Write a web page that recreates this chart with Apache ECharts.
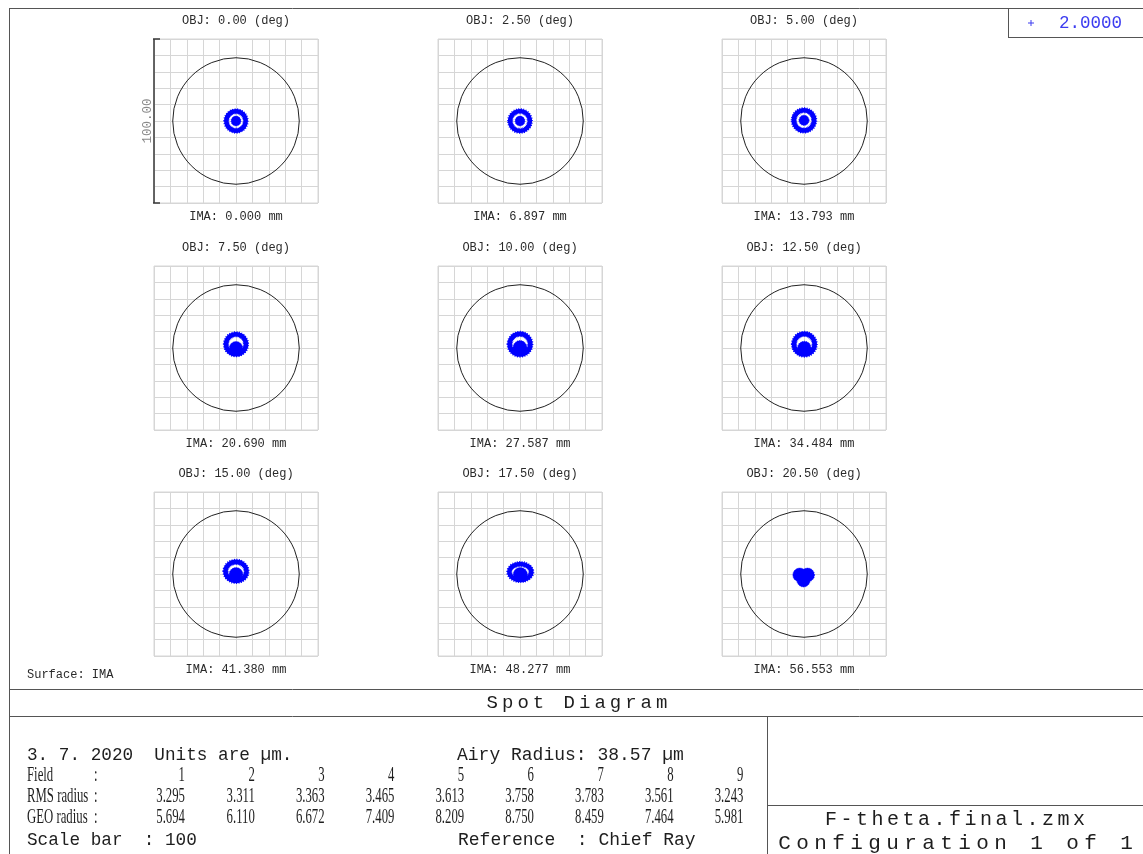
<!DOCTYPE html>
<html>
<head>
<meta charset="utf-8">
<script src="https://cdn.jsdelivr.net/npm/echarts@6/dist/echarts.min.js"></script>
<style>
  html, body { margin: 0; padding: 0; background: #fff; }
  #chart { width: 1143px; height: 854px; }
</style>
</head>
<body>
<div id="chart"></div>
<script>
// ---- Spot diagram data (units: µm unless noted) ----
const fieldAngles = [0.00, 2.50, 5.00, 7.50, 10.00, 12.50, 15.00, 17.50, 20.50];      // deg
const imageHeights = [0.000, 6.897, 13.793, 20.690, 27.587, 34.484, 41.380, 48.277, 56.553]; // mm
const fieldNumbers = [1, 2, 3, 4, 5, 6, 7, 8, 9];
const rmsRadius = [3.295, 3.311, 3.363, 3.465, 3.613, 3.758, 3.783, 3.561, 3.243];
const geoRadius = [5.694, 6.110, 6.672, 7.409, 8.209, 8.750, 8.459, 7.464, 5.981];
const airyRadius = 38.57;
const scaleBar = 100;
const wavelengths = [2.0000];

// Outer ray ring of each spot: [cx, cy, rx, ry, thickness]
const spotRings = [
  [0.0, 0.0, 5.9, 5.9, 2.7],
  [0.0, 0.0, 6.0, 6.0, 2.7],
  [0.0, 0.4, 6.2, 6.2, 2.8],
  [0.0, 2.3, 6.1, 6.1, 2.8],
  [0.0, 2.3, 6.3, 6.3, 2.8],
  [0.2, 2.3, 6.3, 6.3, 2.8],
  [0.0, 1.6, 6.4, 5.8, 2.8],
  [0.2, 1.2, 6.7, 4.9, 2.7],
  null
];
// Dense core of each spot: list of filled disks [cx, cy, r]
const spotCores = [
  [[0.0, 0.0, 3.0]],
  [[0.0, 0.0, 3.0]],
  [[0.0, 0.4, 3.1]],
  [[0.0, -0.1, 4.1]],
  [[0.0, 0.2, 4.3]],
  [[0.2, -0.1, 4.2]],
  [[0.0, -0.3, 4.2]],
  [[0.2, -0.3, 4.3]],
  [[-2.6, -0.6, 4.2], [2.2, -0.6, 4.2], [-0.3, -3.9, 4.0]]
];

// ---- Layout ----
const COL_LEFT = [154, 438, 722];
const ROW_TOP = [39, 266, 492];
const BOX = 164;
const MONO = '"Liberation Mono", "DejaVu Sans Mono", monospace';
const SERIF = '"Liberation Serif", "DejaVu Serif", serif';
const SPOT_BLUE = '#0000ff';
const GRID_GRAY = '#d6d6d6';

const grids = [], xAxes = [], yAxes = [], series = [];

fieldAngles.forEach((ang, i) => {
  const left = COL_LEFT[i % 3], top = ROW_TOP[Math.floor(i / 3)];
  grids.push({ left, top, width: BOX, height: BOX, show: true,
    borderColor: GRID_GRAY, borderWidth: 1, backgroundColor: 'transparent' });
  const axisBase = {
    type: 'value', gridIndex: i, min: -scaleBar / 2, max: scaleBar / 2, interval: 10,
    axisLine: { show: false }, axisTick: { show: false }, axisLabel: { show: false },
    splitLine: { show: true, lineStyle: { color: GRID_GRAY, width: 1 } }
  };
  xAxes.push(Object.assign({}, axisBase));
  const ya = Object.assign({}, axisBase);
  if (i === 0) {
    ya.name = scaleBar.toFixed(2);
    ya.nameLocation = 'middle';
    ya.nameRotate = 90;
    ya.nameGap = 0;
    ya.nameTextStyle = { color: '#8a8a8a', fontFamily: MONO, fontSize: 12.5 };
  }
  yAxes.push(ya);

  // Airy disk circle
  series.push({
    type: 'custom', xAxisIndex: i, yAxisIndex: i, silent: true, clip: false,
    data: [[0, 0]],
    renderItem: (params, api) => {
      const c = api.coord([0, 0]);
      const r = api.size([airyRadius, 0])[0];
      return { type: 'circle', shape: { cx: c[0], cy: c[1], r },
        style: { fill: 'none', stroke: '#222', lineWidth: 1 } };
    }
  });

  // Ray spot
  series.push({
    type: 'custom', xAxisIndex: i, yAxisIndex: i, silent: true, clip: false,
    data: [[0, 0]],
    renderItem: (params, api) => {
      const children = [];
      const ring = spotRings[i];
      if (ring) {
        const c = api.coord([ring[0], ring[1]]);
        const s = api.size([ring[2], ring[3]]);
        const w = api.size([ring[4], 0])[0];
        children.push({ type: 'ellipse', shape: { cx: c[0], cy: c[1], rx: s[0], ry: s[1] },
          style: { fill: 'none', stroke: SPOT_BLUE, lineWidth: w } });
        children.push({ type: 'ellipse', shape: { cx: c[0], cy: c[1], rx: s[0], ry: s[1] },
          style: { fill: 'none', stroke: SPOT_BLUE, lineWidth: w + 1.6, lineDash: [0.8, 1.2] } });
      }
      spotCores[i].forEach(d => {
        const c = api.coord([d[0], d[1]]);
        const r = api.size([d[2], 0])[0];
        children.push({ type: 'circle', shape: { cx: c[0], cy: c[1], r },
          style: { fill: SPOT_BLUE, stroke: SPOT_BLUE, lineWidth: 0.8, lineDash: [1, 1] } });
      });
      return { type: 'group', children };
    }
  });
});

// Scale bar on the first panel
series.push({
  type: 'custom', xAxisIndex: 0, yAxisIndex: 0, silent: true, clip: false,
  data: [[0, 0]],
  renderItem: (params, api) => {
    const h = scaleBar / 2;
    const a = api.coord([-h, -h]), b = api.coord([-h, h]);
    const st = { stroke: '#3a3a3a', lineWidth: 1.5 };
    return { type: 'group', children: [
      { type: 'line', shape: { x1: a[0], y1: a[1], x2: b[0], y2: b[1] }, style: st },
      { type: 'line', shape: { x1: a[0] - 1, y1: a[1], x2: a[0] + 6, y2: a[1] }, style: st },
      { type: 'line', shape: { x1: b[0] - 1, y1: b[1], x2: b[0] + 6, y2: b[1] }, style: st }
    ]};
  }
});

// ---- Frame, labels and text block ----
const graphic = [];
function line(x1, y1, x2, y2, color) {
  graphic.push({ type: 'line', silent: true,
    shape: { x1, y1, x2, y2 }, style: { stroke: color || '#555', lineWidth: 1 } });
}
function text(str, x, y, font, opts) {
  opts = opts || {};
  graphic.push({ type: 'text', silent: true, x, y,
    scaleX: opts.scaleX || 1,
    style: { text: str, font, fill: opts.fill || '#1e1e1e',
      textAlign: opts.align || 'left', textVerticalAlign: 'middle' } });
}
function spaced(str, cx, cy, advance, font) {
  const total = advance * str.length;
  for (let k = 0; k < str.length; k++) {
    if (str[k] === ' ') continue;
    text(str[k], cx - total / 2 + advance * (k + 0.5), cy, font, { align: 'center' });
  }
}

// Panel captions
fieldAngles.forEach((ang, i) => {
  const cx = COL_LEFT[i % 3] + BOX / 2, top = ROW_TOP[Math.floor(i / 3)];
  text('OBJ: ' + ang.toFixed(2) + ' (deg)', cx, top - 18, '12px ' + MONO, { align: 'center', fill: '#2a2a2a' });
  text('IMA: ' + imageHeights[i].toFixed(3) + ' mm', cx, top + BOX + 13.5, '12px ' + MONO, { align: 'center', fill: '#2a2a2a' });
});
text('Surface: IMA', 27, 675, '12px ' + MONO, { fill: '#2a2a2a' });

// Frame lines
line(9.5, 8, 9.5, 854);
line(9, 8.5, 1143, 8.5);
line(1008.5, 8, 1008.5, 37.5);
line(1008, 37.5, 1143, 37.5);
line(9, 689.5, 1143, 689.5);
line(9, 716.5, 1143, 716.5);
line(767.5, 716, 767.5, 854);
line(767, 805.5, 1143, 805.5);

// Wavelength legend
wavelengths.forEach((wl, k) => {
  const y = 23 + k * 20;
  graphic.push({ type: 'line', silent: true, shape: { x1: 1028, y1: y, x2: 1034, y2: y }, style: { stroke: '#3c3cf0', lineWidth: 1 } });
  graphic.push({ type: 'line', silent: true, shape: { x1: 1031, y1: y - 3, x2: 1031, y2: y + 3 }, style: { stroke: '#3c3cf0', lineWidth: 1 } });
  text(wl.toFixed(4), 1059, y, '17.5px ' + MONO, { fill: '#3c3cf0' });
});

// Title and file block
spaced('Spot Diagram', 577, 703, 15.4, '19px ' + MONO);
spaced('F-theta.final.zmx', 955, 820, 15.5, '20px ' + MONO);
spaced('Configuration 1 of 1', 955.5, 843, 18, '21px ' + MONO);

// Summary text
const BIG = '17.7px ' + MONO;
text('3. 7. 2020  Units are \u00b5m.', 27, 755, BIG);
text('Airy Radius: ' + airyRadius.toFixed(2) + ' \u00b5m', 457, 755, '18px ' + MONO);
text('Scale bar  : ' + scaleBar, 27, 840, BIG);
text('Reference  : Chief Ray', 458, 840, '18px ' + MONO);

// Field table (condensed serif)
const TFONT = '22px ' + SERIF, TSX = 0.58;
const rowY = [775.5, 796.5, 817.5];
const rowLabels = ['Field', 'RMS radius', 'GEO radius'];
const rowValues = [fieldNumbers.map(String), rmsRadius.map(v => v.toFixed(3)), geoRadius.map(v => v.toFixed(3))];
rowLabels.forEach((lab, r) => {
  text(lab, 27, rowY[r], TFONT, { scaleX: TSX });
  text(':', 94, rowY[r], TFONT, { scaleX: TSX });
  rowValues[r].forEach((v, c) => {
    text(v, 185 + c * 69.8, rowY[r], TFONT, { scaleX: TSX, align: 'right' });
  });
});

const chart = echarts.init(document.getElementById('chart'), null, { renderer: 'canvas' });
chart.setOption({
  animation: false,
  backgroundColor: '#fff',
  grid: grids,
  xAxis: xAxes,
  yAxis: yAxes,
  series,
  graphic
});
</script>
</body>
</html>
